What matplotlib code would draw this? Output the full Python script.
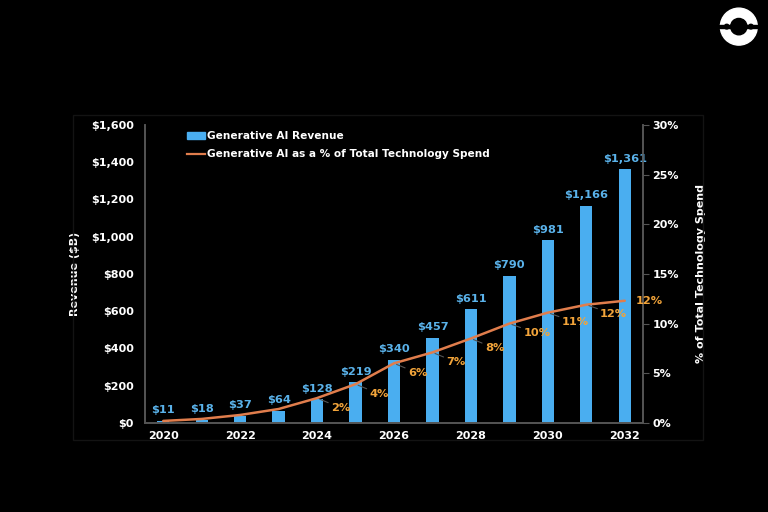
import matplotlib.pyplot as plt
from matplotlib.patches import Circle, Rectangle
from matplotlib.lines import Line2D

years = [2020, 2021, 2022, 2023, 2024, 2025, 2026, 2027, 2028, 2029, 2030, 2031, 2032]
revenue = [11, 18, 37, 64, 128, 219, 340, 457, 611, 790, 981, 1166, 1361]
share = [0.2, 0.4, 0.8, 1.4, 2.5, 3.9, 6.0, 7.1, 8.5, 10.0, 11.1, 11.9, 12.3]
share_labels = ["", "", "", "", "2%", "4%", "6%", "7%", "8%", "10%", "11%", "12%", "12%"]

BAR = "#4aaef0"
LINE = "#e07d4c"
PCT = "#f2a43a"
LBL = "#5ab2ea"
GRAY = "#555555"

plt.rcParams["font.family"] = "DejaVu Sans"
plt.rcParams["font.weight"] = "bold"

fig = plt.figure(figsize=(7.68, 5.12), dpi=100, facecolor="black")
ax = fig.add_axes([0.189, 0.174, 0.648, 0.582], facecolor="black")
ax2 = ax.twinx()

ax.bar(years, revenue, width=0.32, color=BAR, zorder=2)
for x, v in zip(years, revenue):
    ax.annotate(f"${v:,}", (x, v), xytext=(0, 4), textcoords="offset points",
                ha="center", va="bottom", color=LBL, fontsize=8.2, fontweight="bold")

ax.set_xlim(2019.53, 2032.47)
ax.set_ylim(0, 1600)
ax.set_yticks(range(0, 1601, 200))
ax.set_yticklabels([f"${v:,}" for v in range(0, 1601, 200)])
ax.set_xticks(years[::2])
ax.tick_params(axis="both", colors="white", labelsize=8, length=0)
ax.tick_params(axis="y", pad=8)
ax.tick_params(axis="x", pad=6)
ax.set_ylabel("Revenue ($B)", color="white", fontsize=8, fontweight="bold", labelpad=8)

ax2.plot(years, share, color=LINE, lw=1.8, zorder=3, solid_capstyle="round", solid_joinstyle="round")
ax2.set_ylim(0, 30)
ax2.set_yticks(range(0, 31, 5))
ax2.set_yticklabels([f"{v}%" for v in range(0, 31, 5)])
ax2.tick_params(axis="y", colors="white", labelsize=8, length=4, color=GRAY, pad=3)
ax2.set_ylabel("% of Total Technology Spend", color="white", fontsize=8, fontweight="bold", labelpad=12)

for x, s, t in zip(years, share, share_labels):
    if not t:
        continue
    if x == 2032:
        ax2.annotate(t, (x, s), xytext=(8, 0), textcoords="offset points",
                     ha="left", va="center", color=PCT, fontsize=8.2, fontweight="bold")
    else:
        ax2.annotate(t, (x, s), xytext=(10, -7), textcoords="offset points",
                     ha="left", va="center", color=PCT, fontsize=8.2, fontweight="bold",
                     arrowprops=dict(arrowstyle="-", color=GRAY, lw=0.8, shrinkA=0, shrinkB=2))

for a in (ax, ax2):
    a.spines["top"].set_visible(False)
    for side in ("left", "right", "bottom"):
        a.spines[side].set_color(GRAY)
        a.spines[side].set_linewidth(1.2)

handles = [Rectangle((0, 0), 1, 1, color=BAR), Line2D([0], [0], color=LINE, lw=1.6)]
leg = ax.legend(handles, ["Generative AI Revenue", "Generative AI as a % of Total Technology Spend"],
                loc="upper left", bbox_to_anchor=(0.065, 1.01), frameon=False, fontsize=7.6,
                handlelength=1.7, handleheight=0.6, handletextpad=0.2, labelspacing=0.75)
for t in leg.get_texts():
    t.set_color("white")
    t.set_fontweight("bold")

# faint chart frame
fig.patches.append(Rectangle((0.095, 0.14), 0.82, 0.635, transform=fig.transFigure,
                             fill=False, edgecolor="#131313", lw=1))

# corner logo
lax = fig.add_axes([0.918, 0.91, 0.088, 0.076], facecolor="none")
lax.set_xlim(-1.2, 1.2)
lax.set_ylim(-1.0, 1.0)
lax.set_aspect("equal")
lax.axis("off")
lax.add_patch(Circle((0, 0), 0.95, color="white"))
lax.add_patch(Circle((0, 0), 0.42, color="black"))
lax.add_patch(Rectangle((-1.0, -0.06), 2.0, 0.12, color="black"))
lax.add_patch(Circle((-0.62, 0), 0.12, color="black"))
lax.add_patch(Circle((0.62, 0), 0.12, color="black"))

fig.savefig("out.png", dpi=100, facecolor="black")
